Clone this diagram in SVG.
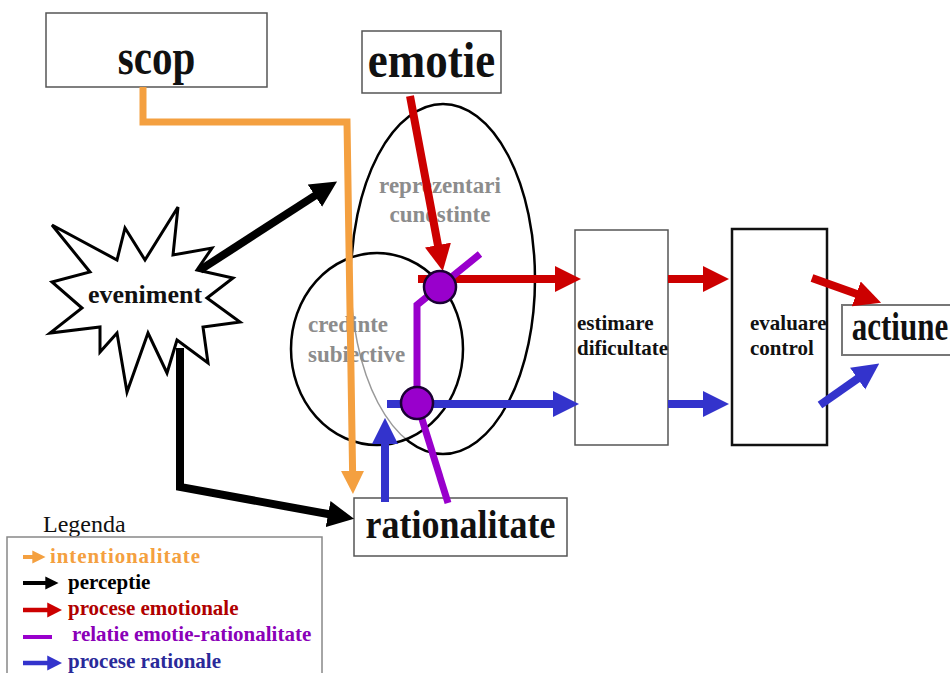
<svg xmlns="http://www.w3.org/2000/svg" width="950" height="673" viewBox="0 0 950 673">
<style>
.box{fill:#fff;stroke:#555;stroke-width:1.5}
.big{font-family:"Liberation Serif","Times New Roman",serif;font-weight:bold;fill:#111;text-anchor:middle}
.mid{font-family:"Liberation Serif","Times New Roman",serif;font-weight:bold;font-size:21px;fill:#111}
.grey{font-family:"Liberation Serif","Times New Roman",serif;font-weight:bold;font-size:23px;fill:#8c8c8c}
.leg{font-family:"Liberation Serif","Times New Roman",serif;font-weight:bold;font-size:21px}
.red{fill:none;stroke:#cc0000;stroke-width:8;marker-end:url(#ahRed)}
.blue{fill:none;stroke:#3333cc;stroke-width:8;marker-end:url(#ahBlue)}
.black{fill:none;stroke:#000;stroke-width:8;marker-end:url(#ahBlack);stroke-linejoin:miter}
.orange{fill:none;stroke:#f4a040;stroke-width:7;marker-end:url(#ahOrange)}
.purple{fill:none;stroke:#9900cc;stroke-width:7}
.junction{fill:#9900cc;stroke:#1a0033;stroke-width:2.5}
.ell{fill:none;stroke:#000;stroke-width:2.5}
</style>
<defs>
<marker id="ahRed" viewBox="0 0 10 10" refX="0.5" refY="5" markerWidth="3.3" markerHeight="3.5" orient="auto"><path d="M0 0L10 5L0 10Z" fill="#cc0000"/></marker>
<marker id="ahBlue" viewBox="0 0 10 10" refX="0.5" refY="5" markerWidth="3.3" markerHeight="3.5" orient="auto"><path d="M0 0L10 5L0 10Z" fill="#3333cc"/></marker>
<marker id="ahBlack" viewBox="0 0 10 10" refX="0.5" refY="5" markerWidth="3.3" markerHeight="3.5" orient="auto"><path d="M0 0L10 5L0 10Z" fill="#000"/></marker>
<marker id="ahOrange" viewBox="0 0 10 10" refX="0.5" refY="5" markerWidth="3.3" markerHeight="3.5" orient="auto"><path d="M0 0L10 5L0 10Z" fill="#f4a040"/></marker>
<clipPath id="outSmall"><path clip-rule="evenodd" d="M0 0H950V673H0Z M291 349a86 96 0 1 0 172 0a86 96 0 1 0 -172 0Z"/></clipPath>
<clipPath id="inSmall"><ellipse cx="377" cy="349" rx="86" ry="96"/></clipPath>
</defs>
<rect width="950" height="673" fill="#fff"/>

<g id="node-reprezentari">
<ellipse cx="443" cy="279" rx="92" ry="175" class="ell" clip-path="url(#outSmall)"/>
<ellipse cx="443" cy="279" rx="92" ry="175" fill="none" stroke="#999" stroke-width="1.5" clip-path="url(#inSmall)"/>
<text class="grey" x="440" y="193" text-anchor="middle">reprezentari</text>
<text class="grey" x="440" y="222" text-anchor="middle">cunostinte</text>
</g>
<g id="node-credinte">
<ellipse cx="377" cy="349" rx="86" ry="96" class="ell"/>
<text class="grey" x="308" y="332">credinte</text>
<text class="grey" x="308" y="362">subiective</text>
</g>

<g id="node-scop">
<rect class="box" x="46" y="13" width="221" height="74"/>
<text class="big" font-size="41" transform="translate(156.5 74) scale(1 1.25)">scop</text>
</g>
<g id="node-emotie">
<rect class="box" x="362" y="31" width="139" height="62"/>
<text class="big" font-size="45" transform="translate(431.5 77) scale(1 1.12)">emotie</text>
</g>
<g id="node-eveniment">
<polygon points="178,207 173,255 212,248 197,270 233,278 207,298 240,322 203,327 208,363 177,340 167,373 148,333 127,392 117,333 100,352 100,327 50,333 82,308 52,282 90,272 52,225 117,260 125,228 145,260" fill="#fff" stroke="#000" stroke-width="3" stroke-linejoin="miter"/>
<text class="mid" x="88" y="303" style="font-size:26px">eveniment</text>
</g>
<g id="node-estimare">
<rect class="box" x="575" y="230" width="93" height="215"/>
<text class="mid" x="577" y="330">estimare</text>
<text class="mid" x="577" y="355">dificultate</text>
</g>
<g id="node-evaluare">
<rect x="732" y="229" width="95" height="216" fill="#fff" stroke="#111" stroke-width="2.5"/>
<text class="mid" x="750" y="330">evaluare</text>
<text class="mid" x="750" y="355">control</text>
</g>
<g id="node-actiune">
<rect x="842" y="305" width="112" height="50" fill="#fff" stroke="#777" stroke-width="2"/>
<text class="big" font-size="31" transform="translate(900 340) scale(1 1.3)">actiune</text>
</g>
<g id="node-rationalitate">
<rect class="box" x="354" y="498" width="213" height="58"/>
<text class="big" font-size="36" transform="translate(460.5 538) scale(1 1.1)">rationalitate</text>
</g>

<g id="connectors">
<path class="orange" d="M143 87V122H347L352.6 472"/>
<path class="black" d="M200 270L316 195"/>
<path class="black" d="M180 348V487L329.4 514.3"/>
<path class="red" d="M410 96L438.2 246.4"/>
<path class="red" d="M418 279H556"/>
<path class="red" d="M668 279H704"/>
<path class="red" d="M812 278L857.5 294.3"/>
<path class="blue" d="M387 404H554"/>
<path class="blue" d="M385 502V443"/>
<path class="blue" d="M668 404H704"/>
<path class="blue" d="M820 405L858.7 377.9"/>
<path class="purple" d="M480 254L417 305V403"/>
<path class="purple" d="M417 403L448 503"/>
</g>
<g id="junctions">
<circle class="junction" cx="440" cy="287" r="16"/>
<circle class="junction" cx="417" cy="403" r="16"/>
</g>

<g id="legend">
<text x="43" y="532" font-family="'Liberation Serif','Times New Roman',serif" font-size="24" fill="#111">Legenda</text>
<rect x="7" y="537" width="315" height="150" fill="none" stroke="#888" stroke-width="1.5"/>
<path d="M23 557H33" stroke="#f4a040" stroke-width="4" marker-end="url(#ahOrange)"/>
<text class="leg" x="50" y="563" fill="#f4a040" textLength="150" lengthAdjust="spacing">intentionalitate</text>
<path d="M23 583H46" stroke="#000" stroke-width="4" marker-end="url(#ahBlack)"/>
<text class="leg" x="68" y="589" fill="#000">perceptie</text>
<path d="M23 610H48" stroke="#cc0000" stroke-width="4.5" marker-end="url(#ahRed)"/>
<text class="leg" x="68" y="615" fill="#b00000">procese emotionale</text>
<path d="M23 637H52" stroke="#9900cc" stroke-width="4"/>
<text class="leg" x="72" y="641" fill="#8a00b8">relatie emotie-rationalitate</text>
<path d="M23 663H48" stroke="#3333cc" stroke-width="4.5" marker-end="url(#ahBlue)"/>
<text class="leg" x="68" y="668" fill="#2a2a9a">procese rationale</text>
</g>
</svg>
